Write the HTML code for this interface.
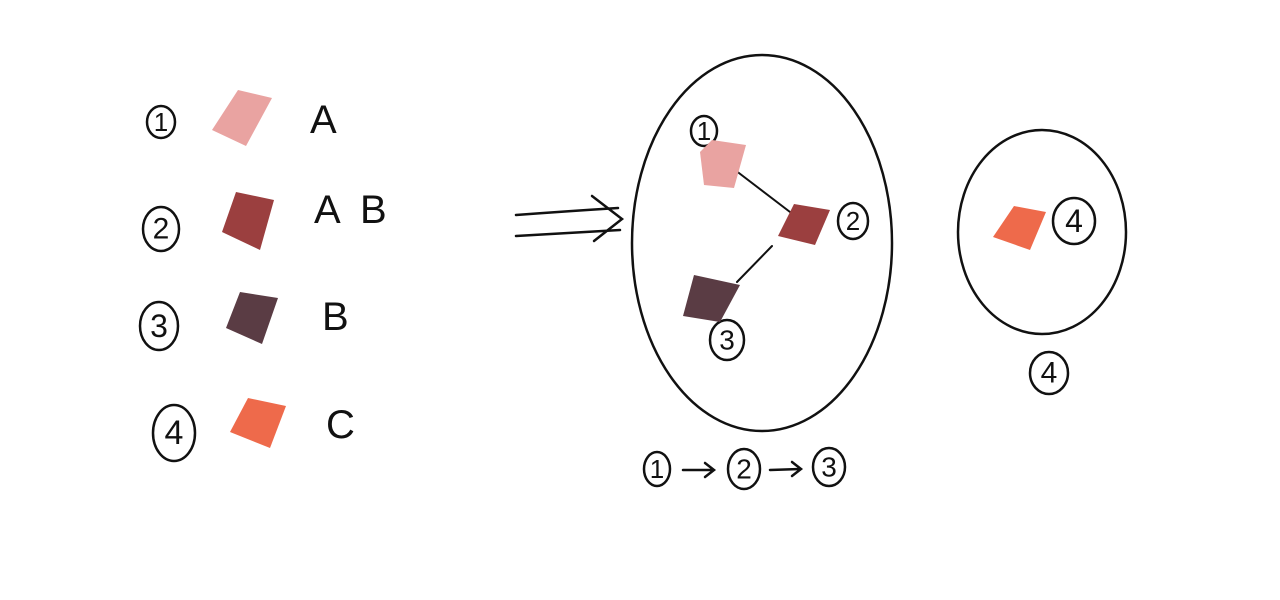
<!DOCTYPE html>
<html><head><meta charset="utf-8"><style>
html,body{margin:0;padding:0;background:#fff;width:1280px;height:600px;overflow:hidden}
svg{display:block}
text{font-family:"Liberation Sans",sans-serif;fill:#111}
</style></head><body>
<svg width="1280" height="600" viewBox="0 0 1280 600">
<g stroke="#111" stroke-width="2.5" fill="none" stroke-linecap="round">
<g><ellipse cx="161" cy="122" rx="14" ry="16"/></g>
<g><ellipse cx="161" cy="229" rx="18" ry="22"/></g>
<g><ellipse cx="159" cy="326" rx="19" ry="24"/></g>
<g><ellipse cx="174" cy="433" rx="21" ry="28"/></g>
<g>
<path d="M516 215 Q570 211 618 208"/><path d="M516 236 Q570 233 620 230"/>
<path d="M592 196 L622 219 L594 241"/></g>
<ellipse cx="762" cy="243" rx="130" ry="188"/>
<ellipse cx="1042" cy="232" rx="84" ry="102"/>
<path d="M735 170 L790 212" stroke-width="2"/>
<path d="M772 246 L737 282" stroke-width="2"/>
<ellipse cx="704" cy="131" rx="13" ry="15"/>
<ellipse cx="853" cy="221" rx="15" ry="18"/>
<ellipse cx="727" cy="340" rx="17" ry="20"/>
<ellipse cx="1074" cy="221" rx="21" ry="23"/>
<ellipse cx="1049" cy="373" rx="19" ry="21"/>
<ellipse cx="657" cy="469" rx="13" ry="17"/>
<path d="M683 470 L713 470 M705 463 L714 470 L705 477"/>
<ellipse cx="744" cy="469" rx="16" ry="20"/>
<path d="M770 470 L800 469 M792 462 L801 469 L792 476"/>
<ellipse cx="829" cy="467" rx="16" ry="19"/>
</g>
<g font-size="26" text-anchor="middle" dominant-baseline="central">
<text x="161" y="122">1</text><text x="161" y="229" font-size="30">2</text><text x="159" y="326" font-size="32">3</text><text x="174" y="433" font-size="34">4</text>
<text x="704" y="131">1</text><text x="853" y="221">2</text><text x="727" y="340" font-size="28">3</text>
<text x="1074" y="221" font-size="32">4</text><text x="1049" y="373" font-size="30">4</text>
<text x="657" y="469">1</text><text x="744" y="469" font-size="28">2</text><text x="829" y="467" font-size="28">3</text>
</g>
<g font-size="40">
<text x="310" y="133">A</text><text x="314" y="223">A</text><text x="360" y="223">B</text>
<text x="322" y="330">B</text><text x="326" y="438">C</text>
</g>
<g>
<path d="M212 130 L238 90 L272 98 L246 146 Z" fill="#e9a3a1"/>
<path d="M222 232 L236 192 L274 200 L260 250 Z" fill="#9b3f3f"/>
<path d="M226 328 L240 292 L278 298 L262 344 Z" fill="#5a3c44"/>
<path d="M230 432 L248 398 L286 406 L270 448 Z" fill="#ee6a4b"/>
<path d="M700 152 L712 140 L746 145 L734 188 L704 185 Z" fill="#e9a3a1"/>
<path d="M778 236 L794 204 L830 210 L815 245 Z" fill="#9b3f3f"/>
<path d="M683 316 L694 275 L740 285 L720 322 Z" fill="#5a3c44"/>
<path d="M993 237 L1014 206 L1046 212 L1030 250 Z" fill="#ee6a4b"/>
</g>
</svg>
</body></html>
